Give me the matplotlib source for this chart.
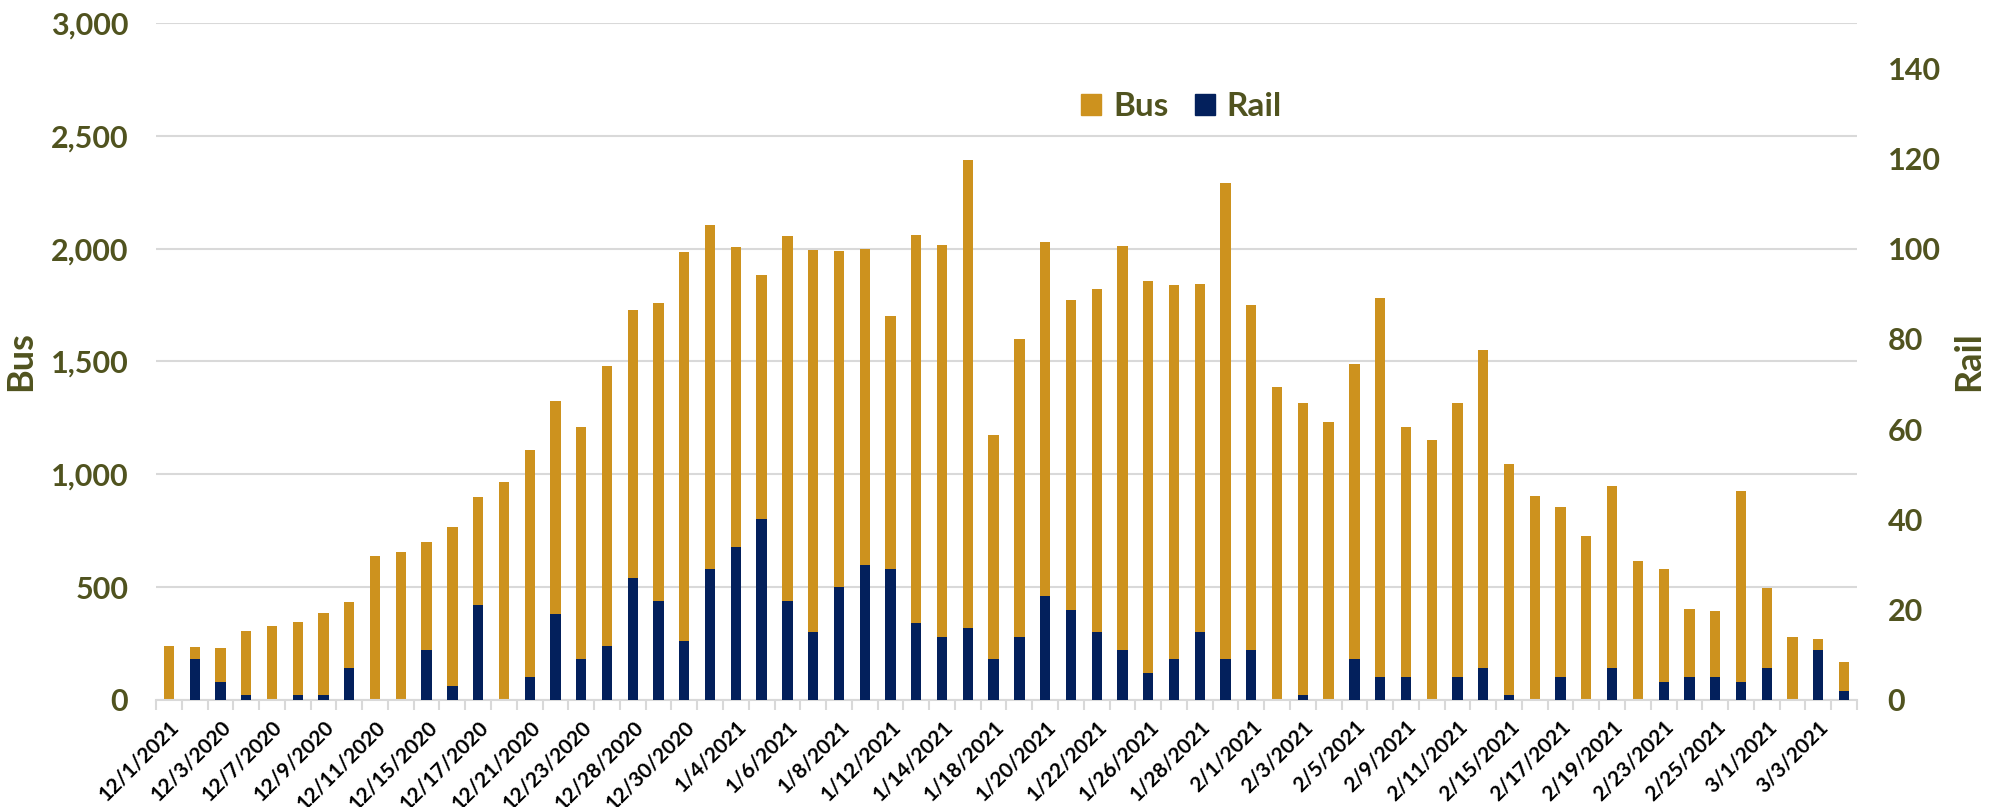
import matplotlib.pyplot as plt
import numpy as np
from matplotlib.patches import Patch
from matplotlib.ticker import FuncFormatter

plt.rcParams['font.family'] = ['Lato', 'DejaVu Sans']

# one bar per business day, labels on every other bar
dates = ['12/1/2021', '12/2/2020', '12/3/2020', '12/4/2020', '12/7/2020', '12/8/2020',
         '12/9/2020', '12/10/2020', '12/11/2020', '12/14/2020', '12/15/2020', '12/16/2020',
         '12/17/2020', '12/18/2020', '12/21/2020', '12/22/2020', '12/23/2020', '12/24/2020',
         '12/28/2020', '12/29/2020', '12/30/2020', '12/31/2020', '1/4/2021', '1/5/2021',
         '1/6/2021', '1/7/2021', '1/8/2021', '1/11/2021', '1/12/2021', '1/13/2021',
         '1/14/2021', '1/15/2021', '1/18/2021', '1/19/2021', '1/20/2021', '1/21/2021',
         '1/22/2021', '1/25/2021', '1/26/2021', '1/27/2021', '1/28/2021', '1/29/2021',
         '2/1/2021', '2/2/2021', '2/3/2021', '2/4/2021', '2/5/2021', '2/8/2021',
         '2/9/2021', '2/10/2021', '2/11/2021', '2/12/2021', '2/15/2021', '2/16/2021',
         '2/17/2021', '2/18/2021', '2/19/2021', '2/22/2021', '2/23/2021', '2/24/2021',
         '2/25/2021', '2/26/2021', '3/1/2021', '3/2/2021', '3/3/2021', '3/4/2021']

bus = [241, 236, 230, 304, 329, 344, 384, 433, 638, 658, 698, 765,
       901, 968, 1107, 1327, 1208, 1479, 1727, 1761, 1986, 2104,
       2006, 1885, 2057, 1993, 1989, 1997, 1701, 2059, 2017, 2395,
       1175, 1600, 2030, 1772, 1822, 2011, 1856, 1838, 1845, 2290,
       1751, 1389, 1316, 1230, 1490, 1780, 1208, 1150, 1314, 1550,
       1044, 905, 856, 726, 949, 617, 582, 404, 394, 927,
       496, 278, 269, 167]

rail = [0, 9, 4, 1, 0, 1, 1, 7, 0, 0, 11, 3,
        21, 0, 5, 19, 9, 12, 27, 22, 13, 29,
        34, 40, 22, 15, 25, 30, 29, 17, 14, 16,
        9, 14, 23, 20, 15, 11, 6, 9, 15, 9,
        11, 0, 1, 0, 9, 5, 5, 0, 5, 7,
        1, 0, 5, 0, 7, 0, 4, 5, 5, 4,
        7, 0, 11, 2]

gold = '#CD921E'
navy = '#03205C'
olive = '#50531F'
grid = '#D9D9D9'

x = np.arange(len(dates))

fig = plt.figure(figsize=(19.95, 8.07), dpi=100)
ax = fig.add_axes([0.0782, 0.1326, 0.8526, 0.8389])
ax.bar(x, bus, width=0.4, color=gold, zorder=2)
ax.set_ylim(0, 3000)
ax.set_yticks(np.arange(0, 3001, 500))
ax.yaxis.set_major_formatter(FuncFormatter(lambda v, p: f'{int(v):,}'))
ax.grid(axis='y', color=grid, linewidth=1.5, zorder=0)
ax.set_axisbelow(True)
ax.set_xlim(-0.5, len(dates) - 0.5)

ax2 = ax.twinx()
ax2.bar(x, rail, width=0.4, color=navy, zorder=3)
ax2.set_ylim(0, 150)
ax2.set_yticks(np.arange(0, 141, 20))

for a in (ax, ax2):
    for s in ['top', 'left', 'right', 'bottom']:
        a.spines[s].set_visible(False)
ax.spines['bottom'].set_visible(True)
ax.spines['bottom'].set_color(grid)
ax.spines['bottom'].set_linewidth(1.5)

ax.tick_params(axis='y', length=0, pad=20, labelsize=22, labelcolor=olive)
ax2.tick_params(axis='y', length=0, pad=22, labelsize=22, labelcolor=olive)
for lab in ax.get_yticklabels() + ax2.get_yticklabels():
    lab.set_fontweight('bold')

ax.set_xticks(x[::2])
ax.set_xticklabels(dates[::2], rotation=45, ha='right', rotation_mode='anchor',
                   fontsize=15, fontweight='bold', color='black')
ax.tick_params(axis='x', which='major', length=0, pad=12)
ax.set_xticks(np.arange(-0.5, len(dates), 1), minor=True)
ax.tick_params(axis='x', which='minor', length=7, width=1.5, color=grid)

ax.set_ylabel('Bus', fontsize=26, fontweight='bold', color=olive)
ax.yaxis.set_label_coords(-0.070, 0.5)
ax2.set_ylabel('Rail', fontsize=26, fontweight='bold', color=olive)
ax2.yaxis.set_label_coords(1.056, 0.5)

handles = [Patch(color=gold, label='Bus'), Patch(color=navy, label='Rail')]
leg = ax2.legend(handles=handles, loc='center', bbox_to_anchor=(0.603, 0.876), ncol=2,
                 frameon=False, handlelength=0.6, handleheight=0.6, handletextpad=0.35,
                 columnspacing=0.8, prop={'size': 24, 'weight': 'bold'})
for t in leg.get_texts():
    t.set_color(olive)

plt.savefig('out.png', dpi=100)
